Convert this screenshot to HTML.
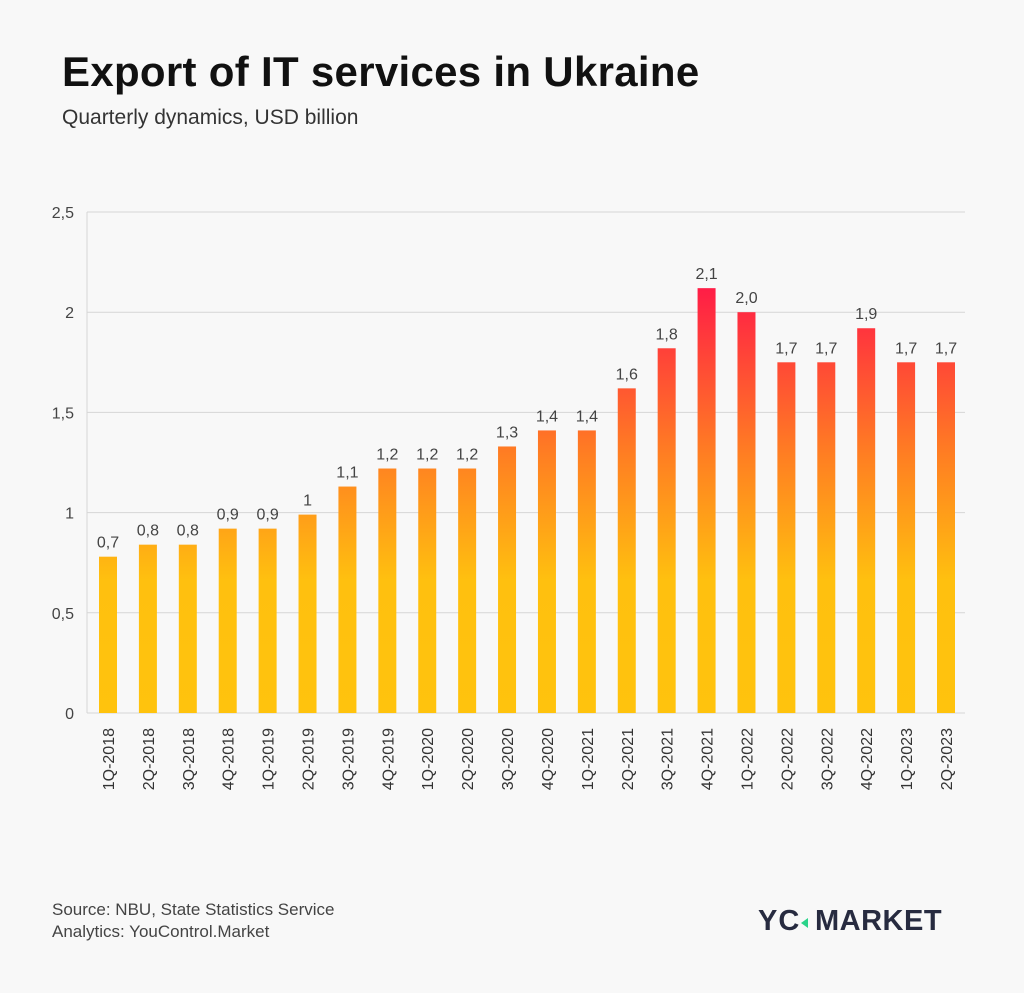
<!DOCTYPE html>
<html><head><meta charset="utf-8"><style>
body{margin:0;background:#f8f8f8;font-family:"Liberation Sans",Arial,sans-serif;}
#wrap{position:relative;width:1024px;height:993px;overflow:hidden;background:#f8f8f8}
</style></head><body>
<div id="wrap">
<svg width="1024" height="993">
<defs>
<linearGradient id="g" gradientUnits="userSpaceOnUse" x1="0" y1="713" x2="0" y2="285">
<stop offset="0" stop-color="#FFC30D"/>
<stop offset="0.31" stop-color="#FFC00F"/>
<stop offset="0.6" stop-color="#FF7F22"/>
<stop offset="1" stop-color="#FF1B47"/>
</linearGradient>
</defs>
<text x="62" y="86" font-size="42" font-weight="bold" fill="#111" letter-spacing="0.3">Export of IT services in Ukraine</text>
<text x="62" y="124" font-size="21" fill="#333">Quarterly dynamics, USD billion</text>
<g id="grid"></g><g id="bars"></g><g id="xl"></g>
<text x="52" y="915" font-size="17" fill="#444">Source: NBU, State Statistics Service</text>
<text x="52" y="937" font-size="17" fill="#444">Analytics: YouControl.Market</text>
<g>
<text x="758" y="930" font-size="29" font-weight="bold" fill="#272b40" letter-spacing="1">YC</text>
<polygon points="808,918 801,923 808,928" fill="#2bd38a"/>
<text x="815" y="930" font-size="29" font-weight="bold" fill="#272b40" letter-spacing="0.5">MARKET</text>
</g>
</svg>
</div>
<script>
const categories=["1Q-2018","2Q-2018","3Q-2018","4Q-2018","1Q-2019","2Q-2019","3Q-2019","4Q-2019","1Q-2020","2Q-2020","3Q-2020","4Q-2020","1Q-2021","2Q-2021","3Q-2021","4Q-2021","1Q-2022","2Q-2022","3Q-2022","4Q-2022","1Q-2023","2Q-2023"];
const values=[0.78,0.84,0.84,0.92,0.92,0.99,1.13,1.22,1.22,1.22,1.33,1.41,1.41,1.62,1.82,2.12,2.0,1.75,1.75,1.92,1.75,1.75];
const labels=["0,7","0,8","0,8","0,9","0,9","1","1,1","1,2","1,2","1,2","1,3","1,4","1,4","1,6","1,8","2,1","2,0","1,7","1,7","1,9","1,7","1,7"];
const ticks=[0,0.5,1,1.5,2,2.5];
const tickLabels=["0","0,5","1","1,5","2","2,5"];
</script>
<script>
const NS="http://www.w3.org/2000/svg";
const n=Math.min(categories.length,values.length);
const y=v=>713-v*200.4;
const x=i=>108+i*((946-108)/(n-1));
function mk(t,a,p){const e=document.createElementNS(NS,t);for(const k in a)e.setAttribute(k,a[k]);p.appendChild(e);return e;}
const grid=document.getElementById('grid');
ticks.forEach((t,i)=>{
  const l=mk('line',{x1:87,x2:965,y1:y(t),y2:y(t),stroke:'#d6d6d6','stroke-width':1},grid);
  
  
  const tx=mk('text',{x:74,y:y(t)+6,'text-anchor':'end','font-size':16,fill:'#444'},grid);
  tx.textContent=tickLabels[i];
  
  
});
const ax=mk('line',{x1:87,x2:87,y1:212,y2:713,stroke:'#d6d6d6'},grid);


const bars=document.getElementById('bars'),xl=document.getElementById('xl');
for(let i=0;i<n;i++){
  const r=mk('rect',{x:x(i)-9,y:y(values[i]),width:18,height:713-y(values[i]),fill:'url(#g)'},bars);
  
  
  const t=mk('text',{x:x(i),y:y(values[i])-9,'text-anchor':'middle','font-size':16,fill:'#444'},bars);
  t.textContent=labels[i];
  
  
  const c=mk('text',{'text-anchor':'end','font-size':16,fill:'#333',transform:`translate(${x(i)+6},728) rotate(-90)`},xl);
  c.textContent=categories[i];
  
  
}
</script>
</body></html>
